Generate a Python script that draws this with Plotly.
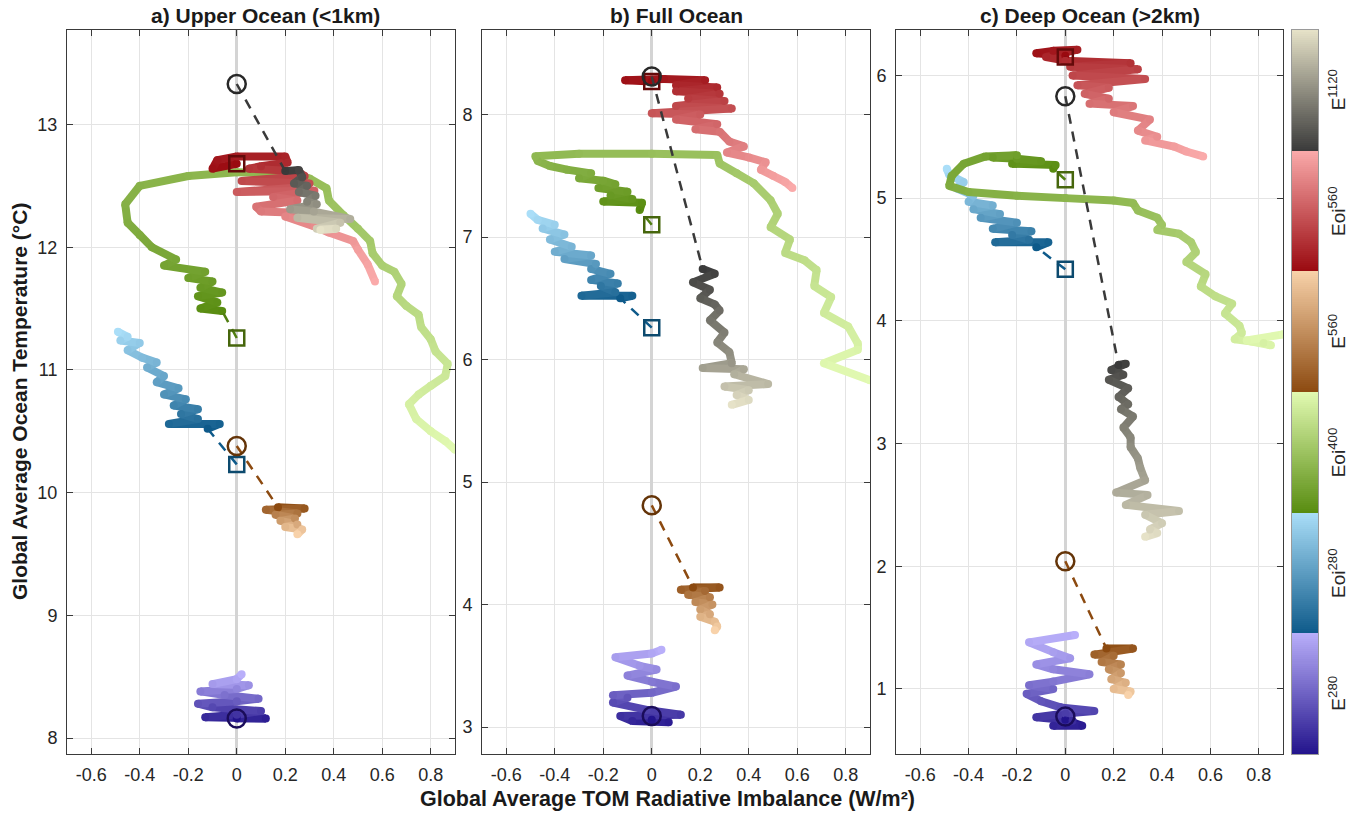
import plotly.graph_objects as go

W, H = 1354, 813

SERIES = ["E280", "Eoi280", "Eoi400", "E560", "Eoi560", "E1120"]
SERIES_LABELS = ["E<sup>280</sup>", "Eoi<sup>280</sup>", "Eoi<sup>400</sup>",
                 "E<sup>560</sup>", "Eoi<sup>560</sup>", "E<sup>1120</sup>"]
PANEL_TITLES = ["a) Upper Ocean (<1km)", "b) Full Ocean", "c) Deep Ocean (>2km)"]
X_TICKS = [-0.6, -0.4, -0.2, 0, 0.2, 0.4, 0.6, 0.8]
X_TICKTEXT = ["-0.6", "-0.4", "-0.2", "0", "0.2", "0.4", "0.6", "0.8"]
A_YTICKS = [8, 9, 10, 11, 12, 13]
B_YTICKS = [3, 4, 5, 6, 7, 8]
C_YTICKS = [1, 2, 3, 4, 5, 6]

# ---------------- panel a: Upper Ocean ----------------
A_E280_X = [0.0, 0.12, -0.13, 0.0, 0.1, -0.1, -0.16, 0.0, 0.09, -0.05, -0.15, 0.0, 0.05, -0.1, 0.0, 0.02]
A_E280_Y = [8.16, 8.16, 8.17, 8.19, 8.22, 8.25, 8.28, 8.3, 8.32, 8.35, 8.38, 8.4, 8.43, 8.44, 8.48, 8.52]
A_EOI280_X = [-0.12, -0.07, -0.28, -0.16, -0.23, -0.16, -0.26, -0.21, -0.3, -0.24, -0.33, -0.3, -0.37, -0.33, -0.39, -0.45, -0.4, -0.48, -0.45, -0.49]
A_EOI280_Y = [10.52, 10.56, 10.56, 10.6, 10.64, 10.68, 10.71, 10.76, 10.8, 10.85, 10.9, 10.95, 11.02, 11.06, 11.1, 11.16, 11.22, 11.24, 11.27, 11.31]
A_EOI400_X = [-0.06, -0.15, -0.08, -0.16, -0.06, -0.15, -0.1, -0.2, -0.13, -0.3, -0.25, -0.35, -0.4, -0.45, -0.46, -0.4, -0.2, 0.0, 0.2, 0.3, 0.37, 0.38, 0.44, 0.5, 0.55, 0.56, 0.6, 0.65, 0.68, 0.66, 0.7, 0.75, 0.76, 0.8, 0.82, 0.87, 0.86, 0.8, 0.75, 0.71, 0.74, 0.8, 0.86, 0.9]
A_EOI400_Y = [11.48, 11.5, 11.55, 11.6, 11.63, 11.67, 11.72, 11.75, 11.8, 11.85, 11.9, 12.0, 12.1, 12.2, 12.35, 12.5, 12.58, 12.61, 12.6, 12.56, 12.48, 12.38, 12.26, 12.15, 12.05, 11.95, 11.85, 11.8, 11.7, 11.6, 11.52, 11.45, 11.35, 11.25, 11.15, 11.05, 10.95, 10.87, 10.8, 10.72, 10.6, 10.5, 10.42, 10.35]
A_E560_X = [0.17, 0.28, 0.12, 0.25, 0.16, 0.24, 0.18, 0.25, 0.2, 0.27, 0.25]
A_E560_Y = [9.88, 9.87, 9.86, 9.83, 9.82, 9.79, 9.77, 9.74, 9.72, 9.7, 9.66]
A_EOI560_X = [0.0, -0.1, -0.08, 0.0, 0.2, 0.21, 0.1, 0.05, 0.25, 0.28, 0.02, 0.3, 0.28, 0.0, 0.32, 0.15, 0.25, 0.08, 0.1, 0.25, 0.2, 0.32, 0.38, 0.48, 0.5, 0.54, 0.57]
A_EOI560_Y = [12.68, 12.64, 12.71, 12.74, 12.74, 12.69, 12.66, 12.64, 12.62, 12.58, 12.54, 12.52, 12.49, 12.45, 12.46, 12.41, 12.38, 12.33, 12.29, 12.28, 12.25, 12.17, 12.12, 12.05, 11.98, 11.86, 11.72]
A_E1120_X = [0.2, 0.256, 0.27, 0.236, 0.29, 0.256, 0.325, 0.29, 0.33, 0.22, 0.318, 0.468, 0.25, 0.427, 0.33, 0.41, 0.345]
A_E1120_Y = [12.62, 12.63, 12.57, 12.52, 12.5, 12.45, 12.42, 12.37, 12.35, 12.31, 12.29, 12.23, 12.24, 12.2, 12.15, 12.15, 12.14]
A_MARK_Y = [8.16, 10.23, 11.26, 10.38, 12.68, 13.33]

# ---------------- panel b: Full Ocean ----------------
B_E280_X = [0.0, 0.07, -0.08, -0.13, 0.12, -0.02, -0.16, -0.1, -0.16, 0.0, 0.1, 0.0, -0.1, 0.02, -0.05, -0.15, 0.0, 0.04]
B_E280_Y = [3.06, 3.04, 3.05, 3.09, 3.1, 3.14, 3.2, 3.24, 3.26, 3.28, 3.33, 3.37, 3.42, 3.47, 3.5, 3.57, 3.6, 3.63]
B_EOI280_X = [-0.13, -0.08, -0.29, -0.15, -0.21, -0.14, -0.25, -0.17, -0.25, -0.23, -0.36, -0.25, -0.4, -0.33, -0.42, -0.36, -0.45, -0.4, -0.47, -0.5]
B_EOI280_Y = [6.5, 6.52, 6.52, 6.55, 6.6, 6.62, 6.65, 6.7, 6.74, 6.78, 6.82, 6.85, 6.88, 6.92, 6.98, 7.02, 7.07, 7.1, 7.14, 7.19]
B_EOI400_X = [-0.05, -0.04, -0.2, -0.08, -0.17, -0.1, -0.22, -0.15, -0.2, -0.3, -0.25, -0.35, -0.42, -0.47, -0.48, -0.3, 0.0, 0.27, 0.28, 0.35, 0.42, 0.49, 0.52, 0.49, 0.57, 0.55, 0.63, 0.68, 0.67, 0.74, 0.71, 0.81, 0.85, 0.85, 0.71, 0.9]
B_EOI400_Y = [7.22, 7.28, 7.29, 7.31, 7.34, 7.37, 7.4, 7.43, 7.46, 7.48, 7.52, 7.55, 7.58, 7.62, 7.66, 7.68, 7.68, 7.67, 7.6, 7.52, 7.44, 7.3, 7.19, 7.08, 6.98, 6.87, 6.81, 6.73, 6.6, 6.51, 6.38, 6.27, 6.13, 6.08, 5.97, 5.83]
B_E560_X = [0.17, 0.28, 0.12, 0.22, 0.15, 0.24, 0.18, 0.25, 0.2, 0.24, 0.2, 0.26, 0.27, 0.26]
B_E560_Y = [4.14, 4.14, 4.12, 4.11, 4.08, 4.06, 4.02, 4.0, 3.96, 3.92, 3.9, 3.86, 3.82, 3.79]
B_EOI560_X = [0.0, -0.11, 0.05, 0.22, 0.1, 0.27, 0.1, 0.28, 0.15, 0.3, 0.1, 0.33, 0.0, 0.2, 0.1, 0.27, 0.18, 0.28, 0.32, 0.38, 0.31, 0.4, 0.47, 0.45, 0.5, 0.55, 0.58]
B_EOI560_Y = [8.27, 8.28, 8.29, 8.28, 8.24, 8.22, 8.19, 8.17, 8.13, 8.11, 8.07, 8.05, 8.01, 8.0, 7.96, 7.92, 7.88, 7.86, 7.78, 7.74, 7.69, 7.65, 7.61, 7.55, 7.5, 7.45, 7.4]
B_E1120_X = [0.21, 0.26, 0.17, 0.24, 0.2, 0.26, 0.28, 0.24, 0.3, 0.27, 0.32, 0.33, 0.21, 0.38, 0.34, 0.48, 0.3, 0.4, 0.35, 0.4, 0.33]
B_E1120_Y = [6.74, 6.7, 6.63, 6.57, 6.5, 6.45, 6.4, 6.32, 6.22, 6.14, 6.06, 5.97, 5.93, 5.92, 5.88, 5.8, 5.78, 5.75, 5.71, 5.67, 5.63]
B_MARK_Y = [3.09, 6.26, 7.10, 4.81, 8.27, 8.31]

# ---------------- panel c: Deep Ocean ----------------
C_E280_X = [0.0, 0.07, -0.05, 0.03, -0.12, 0.0, 0.12, -0.02, -0.1, -0.16, -0.05, -0.15, -0.05, 0.1, -0.05, -0.12, 0.02, -0.05, -0.15, 0.04]
C_E280_Y = [0.75, 0.7, 0.7, 0.74, 0.77, 0.8, 0.82, 0.85, 0.9, 0.96, 1.0, 1.03, 1.06, 1.12, 1.16, 1.2, 1.25, 1.3, 1.38, 1.44]
C_EOI280_X = [-0.12, -0.07, -0.29, -0.15, -0.22, -0.14, -0.3, -0.2, -0.35, -0.27, -0.38, -0.3, -0.4, -0.38, -0.45, -0.42, -0.48, -0.49]
C_EOI280_Y = [4.6, 4.64, 4.64, 4.66, 4.7, 4.73, 4.75, 4.8, 4.84, 4.87, 4.91, 4.94, 4.97, 5.02, 5.08, 5.13, 5.19, 5.24]
C_EOI400_X = [-0.05, -0.04, -0.22, -0.1, -0.2, -0.3, -0.2, -0.33, -0.42, -0.47, -0.48, -0.4, -0.2, 0.0, 0.2, 0.28, 0.3, 0.38, 0.4, 0.38, 0.47, 0.52, 0.54, 0.5, 0.58, 0.56, 0.62, 0.69, 0.66, 0.72, 0.73, 0.7, 0.82, 0.85, 0.75, 0.9]
C_EOI400_Y = [5.24, 5.27, 5.28, 5.3, 5.32, 5.33, 5.35, 5.34, 5.28, 5.18, 5.1, 5.05, 5.02, 5.0, 4.98, 4.96, 4.9, 4.84, 4.78, 4.74, 4.71, 4.64, 4.56, 4.48, 4.38, 4.28, 4.2, 4.14, 4.06, 3.96, 3.9, 3.85, 3.82, 3.8, 3.84, 3.89]
C_E560_X = [0.17, 0.28, 0.12, 0.2, 0.15, 0.23, 0.18, 0.23, 0.19, 0.25, 0.2, 0.27, 0.26]
C_E560_Y = [1.33, 1.33, 1.28, 1.27, 1.22, 1.2, 1.16, 1.13, 1.08, 1.05, 1.0, 0.98, 0.95]
C_EOI560_X = [0.0, -0.12, -0.05, 0.05, -0.08, 0.0, 0.27, 0.02, 0.3, 0.03, 0.33, 0.05, 0.18, 0.08, 0.18, 0.1, 0.28, 0.2, 0.35, 0.3, 0.38, 0.33, 0.45, 0.5, 0.57]
C_EOI560_Y = [6.16, 6.18, 6.2, 6.21, 6.15, 6.12, 6.1, 6.07, 6.05, 6.0, 5.97, 5.92, 5.9, 5.85, 5.81, 5.77, 5.75, 5.7, 5.64, 5.55, 5.5, 5.47, 5.42, 5.38, 5.34]
C_E1120_X = [0.22, 0.25, 0.19, 0.24, 0.18, 0.26, 0.22, 0.26, 0.23, 0.28, 0.24, 0.27, 0.27, 0.3, 0.31, 0.33, 0.21, 0.34, 0.25, 0.47, 0.33, 0.4, 0.35, 0.38, 0.33]
C_E1120_Y = [3.64, 3.65, 3.6, 3.56, 3.52, 3.45, 3.38, 3.32, 3.28, 3.22, 3.13, 3.05, 2.97, 2.88, 2.8, 2.7, 2.6, 2.58, 2.5, 2.45, 2.42, 2.35, 2.3, 2.27, 2.24]
C_MARK_Y = [0.775, 4.42, 5.15, 2.04, 6.15, 5.83]

# ---------------- styles ----------------
DARK = [(35, 20, 140), (14, 90, 138), (88, 140, 16), (140, 74, 16), (154, 10, 16), (58, 58, 58)]
LIGHT = [(185, 175, 250), (170, 222, 248), (226, 250, 178), (248, 210, 170), (250, 170, 170), (230, 226, 200)]
MARK_COL = ["#1a0c5a", "#0c4a6e", "#46660c", "#643408", "#640a0a", "#282828"]
DASH_COL = ["#231490", "#0e5a8a", "#507e10", "#8c4a10", "#8c0a10", "#3a3a3a"]
MARK_SYM = ["circle-open", "square-open", "square-open", "circle-open", "square-open", "circle-open"]

PANELS = [
    dict(xs=[A_E280_X, A_EOI280_X, A_EOI400_X, A_E560_X, A_EOI560_X, A_E1120_X],
         ys=[A_E280_Y, A_EOI280_Y, A_EOI400_Y, A_E560_Y, A_EOI560_Y, A_E1120_Y],
         mark=A_MARK_Y, yrange=[7.87, 13.77], yticks=A_YTICKS),
    dict(xs=[B_E280_X, B_EOI280_X, B_EOI400_X, B_E560_X, B_EOI560_X, B_E1120_X],
         ys=[B_E280_Y, B_EOI280_Y, B_EOI400_Y, B_E560_Y, B_EOI560_Y, B_E1120_Y],
         mark=B_MARK_Y, yrange=[2.78, 8.69], yticks=B_YTICKS),
    dict(xs=[C_E280_X, C_EOI280_X, C_EOI400_X, C_E560_X, C_EOI560_X, C_E1120_X],
         ys=[C_E280_Y, C_EOI280_Y, C_EOI400_Y, C_E560_Y, C_EOI560_Y, C_E1120_Y],
         mark=C_MARK_Y, yrange=[0.47, 6.37], yticks=C_YTICKS),
]

XDOM = [(67, 455), (482, 870), (896, 1283)]
PLOT_TOP, PLOT_BOT = 30, 754
YDOM = [1 - PLOT_BOT / H, 1 - PLOT_TOP / H]
LW = 8
FONT = "Liberation Sans, Arial, Helvetica, sans-serif"


def cmap(s, t):
    d, l = DARK[s], LIGHT[s]
    c = [round(d[k] + (l[k] - d[k]) * t) for k in range(3)]
    return "rgb(%d,%d,%d)" % tuple(c)


fig = go.Figure()

for p, panel in enumerate(PANELS):
    xa = "x" if p == 0 else "x%d" % (p + 1)
    ya = "y" if p == 0 else "y%d" % (p + 1)
    # trajectories
    for s in range(6):
        xs, ys = panel["xs"][s], panel["ys"][s]
        n = len(xs)
        cols = [cmap(s, i / (n - 1)) for i in range(n)]
        for i in range(n - 1):
            fig.add_trace(go.Scatter(x=[xs[i], xs[i + 1]], y=[ys[i], ys[i + 1]], mode="lines",
                                     line=dict(color=cmap(s, (i + 0.5) / (n - 1)), width=LW),
                                     xaxis=xa, yaxis=ya, hoverinfo="skip", showlegend=False))
        fig.add_trace(go.Scatter(x=xs, y=ys, mode="markers",
                                 marker=dict(color=cols, size=LW, line=dict(width=0)),
                                 xaxis=xa, yaxis=ya, hoverinfo="skip", showlegend=False))
    # dashed connectors + markers
    for s in range(6):
        xs, ys = panel["xs"][s], panel["ys"][s]
        my = panel["mark"][s]
        fig.add_trace(go.Scatter(x=[0, xs[0]], y=[my, ys[0]], mode="lines",
                                 line=dict(color=DASH_COL[s], width=2.5, dash="10px,8px"),
                                 xaxis=xa, yaxis=ya, hoverinfo="skip", showlegend=False))
    for s in range(6):
        my = panel["mark"][s]
        sz = 18 if MARK_SYM[s].startswith("circle") else 15
        fig.add_trace(go.Scatter(x=[0], y=[my], mode="markers",
                                 marker=dict(symbol=MARK_SYM[s], size=sz, color=MARK_COL[s],
                                             line=dict(width=2.5, color=MARK_COL[s])),
                                 xaxis=xa, yaxis=ya, hoverinfo="skip", showlegend=False))

# ---------------- colour bar (drawn as heatmap) ----------------
NB = 6 * 60
cs = []
for s in range(6):
    d, l = DARK[s], LIGHT[s]
    cs.append([s / 6, "rgb(%d,%d,%d)" % d])
    cs.append([(s + 1) / 6 - 1e-6 if s < 5 else 1.0, "rgb(%d,%d,%d)" % l])
zvals = [[(k + 0.5) / NB] for k in range(NB)]
fig.add_trace(go.Heatmap(z=zvals, x=[0], y=[(k + 0.5) / NB for k in range(NB)],
                         colorscale=cs, zmin=0, zmax=1, showscale=False,
                         xaxis="x4", yaxis="y4", hoverinfo="skip"))

axis_common = dict(showline=True, linecolor="#3a3a3a", linewidth=1, mirror="ticks",
                   ticks="inside", ticklen=6, tickcolor="#3a3a3a", showgrid=True,
                   gridcolor="#e4e4e4", gridwidth=1,
                   tickfont=dict(family=FONT, size=18, color="#262626"), fixedrange=True)

layout = dict(width=W, height=H, margin=dict(l=0, r=0, t=0, b=0),
              paper_bgcolor="white", plot_bgcolor="white", showlegend=False,
              font=dict(family=FONT, color="#262626"))

for p, panel in enumerate(PANELS):
    xk = "xaxis" if p == 0 else "xaxis%d" % (p + 1)
    yk = "yaxis" if p == 0 else "yaxis%d" % (p + 1)
    ya = "y" if p == 0 else "y%d" % (p + 1)
    xa = "x" if p == 0 else "x%d" % (p + 1)
    layout[xk] = dict(axis_common, domain=[XDOM[p][0] / W, XDOM[p][1] / W], range=[-0.7, 0.9],
                      tickvals=X_TICKS, ticktext=X_TICKTEXT, anchor=ya,
                      zeroline=True, zerolinecolor="#d4d4d4", zerolinewidth=3,
                      ticklabelstandoff=4)
    layout[yk] = dict(axis_common, domain=YDOM, range=panel["yrange"], tickvals=panel["yticks"],
                      ticktext=[str(v) for v in panel["yticks"]], anchor=xa, zeroline=False,
                      ticklabelstandoff=5)

layout["xaxis4"] = dict(domain=[1292 / W, 1318 / W], range=[-0.5, 0.5], anchor="y4",
                        showline=True, mirror=True, linecolor="#9a9a9a", linewidth=1,
                        showgrid=False, zeroline=False, showticklabels=False, ticks="",
                        fixedrange=True)
layout["yaxis4"] = dict(domain=YDOM, range=[0, 1], anchor="x4",
                        showline=True, mirror=True, linecolor="#9a9a9a", linewidth=1,
                        showgrid=False, zeroline=False, showticklabels=False, ticks="",
                        fixedrange=True)

ann = []
TITLE_X = [265, 676, 1090]
for p in range(3):
    ann.append(dict(text="<b>%s</b>" % PANEL_TITLES[p], xref="paper", yref="paper",
                    x=TITLE_X[p] / W, y=1 - 16 / H, xanchor="center", yanchor="middle",
                    showarrow=False, font=dict(family=FONT, size=21, color="#1a1a1a")))
ann.append(dict(text="<b>Global Average TOM Radiative Imbalance (W/m²)</b>", xref="paper",
                yref="paper", x=667 / W, y=1 - 799 / H, xanchor="center", yanchor="middle",
                showarrow=False, font=dict(family=FONT, size=21.5, color="#1a1a1a")))
ann.append(dict(text="<b>Global Average Ocean Temperature (°C)</b>", xref="paper",
                yref="paper", x=20 / W, y=1 - 402 / H, xanchor="center", yanchor="middle",
                textangle=-90, showarrow=False, font=dict(family=FONT, size=21, color="#1a1a1a")))
seg = (PLOT_BOT - PLOT_TOP) / 6
for s in range(6):
    cy = PLOT_BOT - seg * (s + 0.5)
    ann.append(dict(text=SERIES_LABELS[s], xref="paper", yref="paper", x=1337 / W, y=1 - cy / H,
                    xanchor="center", yanchor="middle", textangle=-90, showarrow=False,
                    font=dict(family=FONT, size=19, color="#262626")))
layout["annotations"] = ann

fig.update_layout(**layout)
fig.write_html("out.html")
